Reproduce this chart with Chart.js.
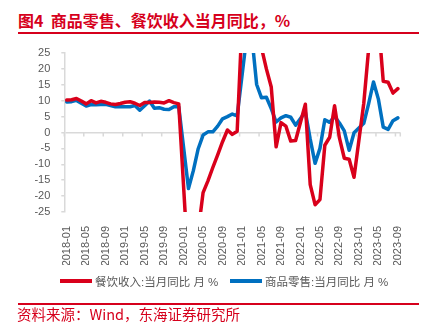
<!DOCTYPE html>
<html>
<head>
<meta charset="utf-8">
<script src="https://cdn.jsdelivr.net/npm/chart.js@4.4.1/dist/chart.umd.min.js"></script>
<style>
  body { margin: 0; width: 422px; height: 327px; position: relative; background: #fff; overflow: hidden; }
  .red { color: #d6001c; position: absolute; white-space: nowrap; }
  #title { left: 18px; top: 12px; font: bold 16px/1 'Noto Sans CJK SC', sans-serif; }
  #source { left: 17px; top: 307px; font: 14.5px/1 'Noto Sans CJK SC', sans-serif; }
  .rule { position: absolute; left: 18px; width: 401px; height: 1.5px; background: #d6001c; }
  #c { position: absolute; left: 0; top: 0; }
  .key { position: absolute; top: 274px; height: 14px; display: flex; align-items: center;
         font: 11.5px 'Liberation Sans', 'Noto Sans CJK SC', sans-serif; color: #595959; white-space: nowrap; }
  .key i { display: inline-block; width: 32px; height: 3.5px; margin-right: 3px; }
</style>
</head>
<body>
<div id="title" class="red">图4&nbsp;&nbsp;商品零售、餐饮收入当月同比，%</div>
<div class="rule" style="top:32px"></div>
<canvas id="c" width="422" height="327"></canvas>
<div id="legend"></div>
<div class="rule" style="top:303px"></div>
<div id="source" class="red">资料来源：Wind，东海证券研究所</div>
<script>
const months = [
  '2018-01','2018-02','2018-03','2018-04','2018-05','2018-06','2018-07','2018-08','2018-09','2018-10','2018-11','2018-12',
  '2019-01','2019-02','2019-03','2019-04','2019-05','2019-06','2019-07','2019-08','2019-09','2019-10','2019-11','2019-12',
  '2020-01','2020-02','2020-03','2020-04','2020-05','2020-06','2020-07','2020-08','2020-09','2020-10','2020-11','2020-12',
  '2021-01','2021-02','2021-03','2021-04','2021-05','2021-06','2021-07','2021-08','2021-09','2021-10','2021-11','2021-12',
  '2022-01','2022-02','2022-03','2022-04','2022-05','2022-06','2022-07','2022-08','2022-09','2022-10','2022-11','2022-12',
  '2023-01','2023-02','2023-03','2023-04','2023-05','2023-06','2023-07','2023-08','2023-09'
];

// 餐饮收入:当月同比 (%), January merged into February from 2020 on
const catering = [
  10.2, 10.3, 10.7, 9.9, 9.0, 10.0, 9.3, 9.8, 9.5, 9.0, 8.8, 9.1,
  9.5, 9.7, 9.2, 8.5, 9.4, 9.4, 9.6, 9.5, 9.3, 10.0, 9.4, 9.0,
  null, -43.1, -46.8, -31.1, -18.9, -15.2, -11.0, -7.0, -2.9, 0.8, -0.6, 0.4,
  null, 68.9, 91.6, 46.4, 26.6, 20.0, 14.3, -4.5, 3.1, 2.0, -2.7, -2.5,
  null, 8.9, -16.4, -22.7, -21.1, -4.0, -1.5, 8.4, -1.7, -8.1, -8.4, -14.1,
  null, 9.2, 26.3, 43.8, 35.1, 16.1, 15.8, 12.4, 13.8
];

// 商品零售:当月同比 (%)
const goods = [
  9.6, 9.7, 10.1, 9.2, 8.3, 8.8, 8.7, 8.8, 8.9, 8.5, 8.1, 8.1,
  8.1, 8.1, 8.5, 7.0, 8.4, 9.9, 7.6, 7.8, 7.3, 7.2, 8.1, 8.1,
  null, -17.6, -12.0, -5.1, -0.8, 0.2, 0.2, 2.0, 4.3, 5.0, 5.8, 5.2,
  null, 30.7, 30.4, 15.1, 10.9, 11.1, 7.5, 3.3, 4.6, 5.3, 4.8, 2.3,
  null, 6.5, -2.1, -9.7, -5.0, 4.0, 3.2, 5.1, 3.0, 0.5, -5.6, -0.1,
  null, 2.9, 9.1, 15.9, 10.5, 1.7, 1.0, 3.7, 4.6
];

const seriesNames = ['餐饮收入:当月同比 月 %', '商品零售:当月同比 月 %'];
const yMin = -25, yMax = 25, yStep = 5;
const labelEvery = 4;

const RED = '#d9001b', BLUE = '#0070c0', AXIS = '#d9d9d9', TEXT = '#595959';
const FONT = "'Liberation Sans', 'Noto Sans CJK SC', sans-serif";

// short tick marks hanging under the zero line, on category boundaries
const zeroTicks = {
  id: 'zeroTicks',
  beforeDatasetsDraw(chart) {
    const x = chart.scales.x, y0 = chart.scales.y.getPixelForValue(0);
    const half = x.width / months.length / 2;
    const ctx = chart.ctx;
    ctx.save();
    ctx.strokeStyle = AXIS;
    ctx.lineWidth = 1.5;
    ctx.beginPath();
    months.forEach((m, i) => {
      if (i % labelEvery) return;
      const px = x.getPixelForValue(i) - half;
      ctx.moveTo(px, y0);
      ctx.lineTo(px, y0 + 4);
    });
    ctx.moveTo(x.right, y0);
    ctx.lineTo(x.right, y0 + 4);
    ctx.stroke();
    ctx.restore();
  }
};

const chart = new Chart(document.getElementById('c'), {
  type: 'line',
  data: {
    labels: months,
    datasets: [
      { label: seriesNames[0], data: catering, borderColor: RED, backgroundColor: RED },
      { label: seriesNames[1], data: goods, borderColor: BLUE, backgroundColor: BLUE }
    ]
  },
  options: {
    responsive: false,
    animation: false,
    spanGaps: true,
    elements: {
      line: { borderWidth: 3.5, tension: 0, borderCapStyle: 'round', borderJoinStyle: 'round' },
      point: { radius: 0 }
    },
    layout: { padding: { left: 0, right: 21.7, top: 53, bottom: 62 } },
    scales: {
      x: {
        offset: true,
        grid: { display: false },
        border: { display: false },
        ticks: {
          autoSkip: false, minRotation: 90, maxRotation: 90, padding: 6,
          color: TEXT, font: { family: FONT, size: 11 },
          callback: (v, i) => (i % labelEvery === 0 ? months[i] : null)
        },
        afterFit: s => { s.height = 53; }
      },
      y: {
        min: yMin, max: yMax,
        border: { display: true, color: AXIS, width: 1.5 },
        grid: {
          color: c => (c.tick && c.tick.value === 0 ? AXIS : 'transparent'),
          tickColor: AXIS, tickLength: 3, lineWidth: 1.5
        },
        ticks: { stepSize: yStep, autoSkip: false, padding: 11, color: TEXT, font: { family: FONT, size: 11 } },
        afterFit: s => { s.width = 64.3; }
      }
    },
    plugins: { tooltip: { enabled: false }, legend: { display: false } }
  },
  plugins: [zeroTicks]
});

// legend keys under the plot
const keyLeft = [60, 230];
chart.data.datasets.forEach((ds, i) => {
  const el = document.createElement('div');
  el.className = 'key';
  el.style.left = keyLeft[i] + 'px';
  el.innerHTML = '<i style="background:' + ds.borderColor + '"></i>' + ds.label;
  document.getElementById('legend').appendChild(el);
});
</script>
</body>
</html>
